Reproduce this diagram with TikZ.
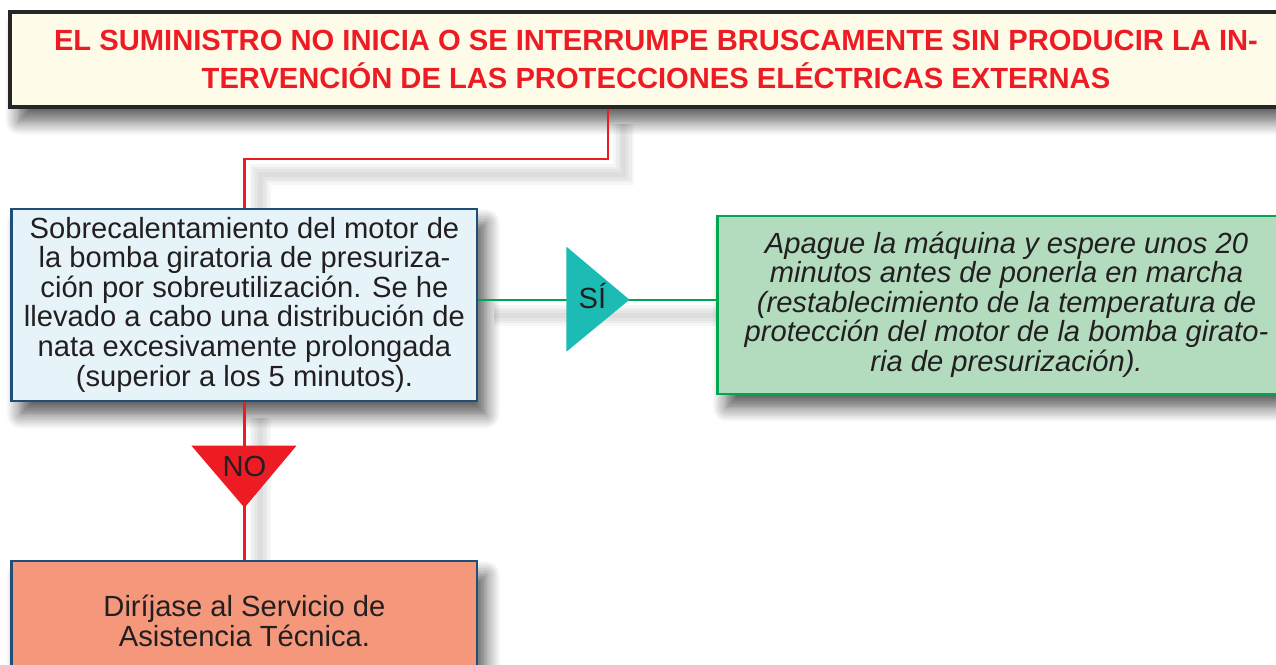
\documentclass[tikz,border=0pt]{standalone}
\usepackage{fontspec}
\setmainfont{Liberation Sans}
\usetikzlibrary{positioning, shadows.blur, backgrounds, calc}

\definecolor{titlered}{HTML}{ED1C24}
\definecolor{titlefill}{HTML}{FFFBE9}
\definecolor{inkgray}{HTML}{231F20}
\definecolor{causefill}{HTML}{E6F4FA}
\definecolor{navyline}{HTML}{1F4E79}
\definecolor{fixfill}{HTML}{B3DCBF}
\definecolor{fixgreen}{HTML}{00A651}
\definecolor{callfill}{HTML}{F5977A}
\definecolor{yesteal}{HTML}{1CBCB4}

\begin{document}
\begin{tikzpicture}[
        x=0.02cm, y=-0.02cm,
        boxshadow/.style={blur shadow={shadow xshift=5pt, shadow yshift=-8pt, shadow blur radius=8pt, shadow blur steps=10, shadow opacity=65}},
        basebox/.style={rectangle, align=center, inner sep=0pt, text=inkgray, font=\fontsize{16.6pt}{16.8pt}\selectfont, boxshadow},
        titlebox/.style={basebox, draw=black!85, line width=1.9pt, fill=titlefill, minimum width=25.84cm, minimum height=1.9cm, text=titlered, font=\fontsize{16.6pt}{21.6pt}\selectfont\bfseries},
        causebox/.style={basebox, draw=navyline, line width=1.2pt, fill=causefill, minimum width=9.32cm, minimum height=3.84cm},
        fixbox/.style={basebox, draw=fixgreen, line width=1.3pt, fill=fixfill, minimum width=11.56cm, minimum height=3.56cm, font=\fontsize{16.6pt}{16.8pt}\selectfont\itshape},
        callbox/.style={basebox, draw=navyline, line width=1.2pt, fill=callfill, minimum width=9.32cm, minimum height=2.4cm},
        redline/.style={draw=titlered, line width=1.3pt},
        greenline/.style={draw=fixgreen, line width=1.3pt},
        lineshadow/.style={draw=black, draw opacity=0.035, line width=#1, transform canvas={xshift=9pt, yshift=-9pt}},
        marklabel/.style={inner sep=0pt, text=inkgray, font=\fontsize{16.6pt}{16.8pt}\selectfont},
    ]
        \useasboundingbox (0,0) rectangle (1276,664);

        \node[titlebox] (fault) at (656,59.5) {EL SUMINISTRO NO INICIA O SE INTERRUMPE BRUSCAMENTE SIN PRODUCIR LA IN-\\TERVENCIÓN DE LAS PROTECCIONES ELÉCTRICAS EXTERNAS};

        \node[causebox, below right=1.98cm and 0.04cm of fault.south west] (overheat) {Sobrecalentamiento del motor de\\la bomba giratoria de presuriza-\\ción por sobreutilización. Se he\\llevado a cabo una distribución de\\nata excesivamente prolongada\\(superior a los 5 minutos).};

        \node[fixbox, right=4.76cm of overheat] (restart) {Apague la máquina y espere unos 20\\minutos antes de ponerla en marcha\\(restablecimiento de la temperatura de\\protección del motor de la bomba girato-\\ria de presurización).};

        \node[callbox, below=3.16cm of overheat] (service) {Diríjase al Servicio de\\Asistencia Técnica.};

        % connectors
        \draw[redline] ([xshift=-0.96cm]fault.south) -- ++(0,50) -| (overheat.north);
        \draw[greenline] ([yshift=0.1cm]overheat.east) coordinate (yesin) -- (yesin -| restart.west) coordinate (yesout);
        \draw[redline] (overheat.south) -- (service.north);

        \begin{scope}[on background layer]
            \foreach \w in {3pt, 6pt, 9pt, 12pt} {
                \draw[lineshadow=\w] ([xshift=-0.96cm]fault.south) -- ++(0,50) -| (overheat.north);
                \draw[lineshadow=\w] (yesin) -- (yesout);
                \draw[lineshadow=\w] (overheat.south) -- (service.north);
            }
        \end{scope}

        % decision marks
        \coordinate (yesmid) at ($(yesin)!0.5!(yesout)$);
        \fill[yesteal] ($(yesmid)+(-31,-53)$) -- ($(yesmid)+(32,0)$) -- ($(yesmid)+(-31,52)$) -- cycle;
        \node[marklabel, anchor=base] (yes) at ($(yesmid)+(-5,9)$) {SÍ};

        \coordinate (nomid) at ($(overheat.south)!0.5!(service.north)$);
        \fill[titlered] ($(nomid)+(-53,-35)$) -- ($(nomid)+(52,-35)$) -- ($(nomid)+(0,27)$) -- cycle;
        \node[marklabel, anchor=base] (no) at ($(nomid)+(0,-4)$) {NO};
    \end{tikzpicture}
\end{document}
